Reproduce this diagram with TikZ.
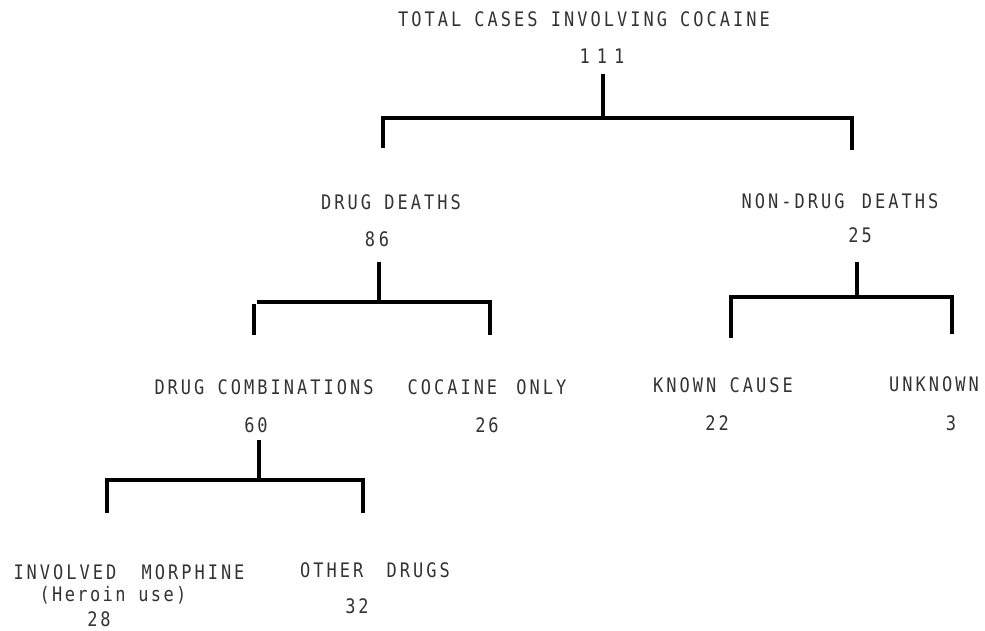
\documentclass[tikz,border=0pt]{standalone}
\usepackage{fontspec}
\newfontfamily\tw{DejaVu Sans Mono}[FakeStretch=0.85,LetterSpace=15]
\begin{document}
\begin{tikzpicture}[x=1pt,y=-1pt,
  lbl/.style={font=\tw\fontsize{20}{22}\selectfont, text=black!80, inner sep=0pt,
    text height=14pt, text depth=0pt, anchor=center},
  conn/.style={line width=3.5pt, line join=miter, line cap=butt}]
\useasboundingbox (0,0) rectangle (985,631);

% texts
\node[lbl] (total)  at (584,20)  {TOTAL CASES INVOLVING COCAINE};
\node[lbl] (ntotal) at (602,57)  {1\kern7pt1\kern7pt1};
\node[lbl] (drug)   at (391,203) {DRUG DEATHS};
\node[lbl] (ndrug)  at (377,239) {8\kern4pt6};
\node[lbl] (non)    at (840,202) {NON-DRUG\hspace{4pt} DEATHS};
\node[lbl] (nnon)   at (860,236) {2\kern3pt5};
\node[lbl] (comb)   at (264,387) {DRUG COMBINATIONS};
\node[lbl] (ncomb)  at (256,425) {60};
\node[lbl] (only)   at (487,387) {COCAINE\hspace{6pt} ONLY};
\node[lbl] (nonly)  at (487,425) {2\kern3pt6};
\node[lbl] (known)  at (723,385) {KNOWN CAUSE};
\node[lbl] (nknown) at (717,423) {22};
\node[lbl] (unk)    at (934,384) {U\kern3pt N\kern3pt K\kern3pt N\kern3pt O\kern3pt W\kern3pt N};
\node[lbl] (nunk)   at (951,423) {3};
\node[lbl] (morph)  at (129,572) {INVOLVED\hspace{12pt} MORPHINE};
\node[lbl] (heroin) at (113,594) {\addfontfeature{LetterSpace=12}(Heroin use)};
\node[lbl] (nmorph) at (99,619)  {28};
\node[lbl] (other)  at (375,570) {OTHER\hspace{10pt} DRUGS};
\node[lbl] (nother) at (357,606) {32};

% junction coordinates
\coordinate (s1t) at (603,74);  \coordinate (s1b) at (603,118);
\coordinate (b1l) at (383,118); \coordinate (b1r) at (852,118);
\coordinate (l1l) at (383,148); \coordinate (l1r) at (852,150);

\coordinate (s2t) at (379,262); \coordinate (s2b) at (379,302);
\coordinate (b2l) at (257,302); \coordinate (b2r) at (492,302);
\coordinate (u2l) at (254,304); \coordinate (l2l) at (254,335);
\coordinate (u2r) at (490,304); \coordinate (l2r) at (490,335);

\coordinate (s3t) at (857,262); \coordinate (s3b) at (857,297);
\coordinate (b3l) at (731,297); \coordinate (b3r) at (952,297);
\coordinate (l3l) at (731,338); \coordinate (l3r) at (952,334);

\coordinate (s4t) at (259,440); \coordinate (s4b) at (259,480);
\coordinate (b4l) at (107,480); \coordinate (b4r) at (363,480);
\coordinate (l4l) at (107,513); \coordinate (l4r) at (363,513);

% connectors
\draw[conn] (s1t) -- (s1b);
\draw[conn] (l1l) -- (b1l) -- (b1r) -- (l1r);

\draw[conn] (s2t) -- (s2b);
\draw[conn] (b2l) -- (b2r);
\draw[conn] (u2l) -- (l2l);
\draw[conn] (u2r) -- (l2r);

\draw[conn] (s3t) -- (s3b);
\draw[conn] (l3l) -- (b3l) -- (b3r) -- (l3r);

\draw[conn] (s4t) -- (s4b);
\draw[conn] (l4l) -- (b4l) -- (b4r) -- (l4r);
\end{tikzpicture}
\end{document}
